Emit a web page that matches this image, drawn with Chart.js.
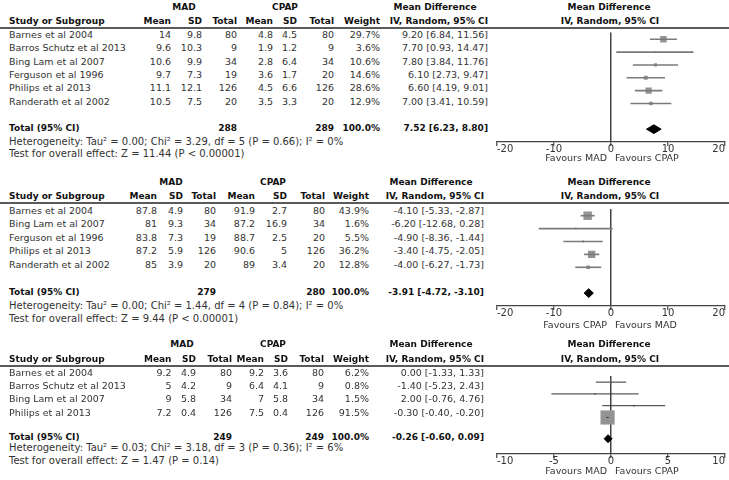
<!DOCTYPE html>
<html><head><meta charset="utf-8">
<script src="https://cdn.jsdelivr.net/npm/chart.js@4.4.1/dist/chart.umd.min.js"></script>
<style>
html,body{margin:0;padding:0;background:#fff;}
#root{position:relative;width:729px;height:480px;overflow:hidden;font-family:"DejaVu Sans",sans-serif;color:#333;}
.t{position:absolute;white-space:nowrap;font-size:9.5px;line-height:12px;height:12px;}
.b{font-weight:bold;font-size:9px;color:#111;}
.n{font-size:10px;}
.hl{position:absolute;left:0;width:729px;height:2px;background:#5a5a5a;}
canvas{position:absolute;}
</style></head><body><div id="root"></div>
<script>
// ---------- Panel 1 ----------
const studies1 = ["Barnes et al 2004","Barros Schutz et al 2013","Bing Lam et al 2007","Ferguson et al 1996","Philips et al 2013","Randerath et al 2002"];
const madMean1 = [14, 9.6, 10.6, 9.7, 11.1, 10.5];
const madSD1 = [9.8, 10.3, 9.9, 7.3, 12.1, 7.5];
const madN1 = [80, 9, 34, 19, 126, 20];
const cpapMean1 = [4.8, 1.9, 2.8, 3.6, 4.5, 3.5];
const cpapSD1 = [4.5, 1.2, 6.4, 1.7, 6.6, 3.3];
const cpapN1 = [80, 9, 34, 20, 126, 20];
const weight1 = [29.7, 3.6, 10.6, 14.6, 28.6, 12.9];
const md1 = [9.20, 7.70, 7.80, 6.10, 6.60, 7.00];
const lo1 = [6.84, 0.93, 3.84, 2.73, 4.19, 3.41];
const hi1 = [11.56, 14.47, 11.76, 9.47, 9.01, 10.59];
const total1 = [7.52, 6.23, 8.80];
const totalN1 = [288, 289];
const ticks1 = [-20, -10, 0, 10, 20];
const favours1 = ["Favours MAD", "Favours CPAP"];
const het1 = "Heterogeneity: Tau\u00b2 = 0.00; Chi\u00b2 = 3.29, df = 5 (P = 0.66); I\u00b2 = 0%";
const test1 = "Test for overall effect: Z = 11.44 (P < 0.00001)";

// ---------- Panel 2 ----------
const studies2 = ["Barnes et al 2004","Bing Lam et al 2007","Ferguson et al 1996","Philips et al 2013","Randerath et al 2002"];
const madMean2 = [87.8, 81, 83.8, 87.2, 85];
const madSD2 = [4.9, 9.3, 7.3, 5.9, 3.9];
const madN2 = [80, 34, 19, 126, 20];
const cpapMean2 = [91.9, 87.2, 88.7, 90.6, 89];
const cpapSD2 = [2.7, 16.9, 2.5, 5, 3.4];
const cpapN2 = [80, 34, 20, 126, 20];
const weight2 = [43.9, 1.6, 5.5, 36.2, 12.8];
const md2 = [-4.10, -6.20, -4.90, -3.40, -4.00];
const lo2 = [-5.33, -12.68, -8.36, -4.75, -6.27];
const hi2 = [-2.87, 0.28, -1.44, -2.05, -1.73];
const total2 = [-3.91, -4.72, -3.10];
const totalN2 = [279, 280];
const ticks2 = [-20, -10, 0, 10, 20];
const favours2 = ["Favours CPAP", "Favours MAD"];
const het2 = "Heterogeneity: Tau\u00b2 = 0.00; Chi\u00b2 = 1.44, df = 4 (P = 0.84); I\u00b2 = 0%";
const test2 = "Test for overall effect: Z = 9.44 (P < 0.00001)";

// ---------- Panel 3 ----------
const studies3 = ["Barnes et al 2004","Barros Schutz et al 2013","Bing Lam et al 2007","Philips et al 2013"];
const madMean3 = [9.2, 5, 9, 7.2];
const madSD3 = [4.9, 4.2, 5.8, 0.4];
const madN3 = [80, 9, 34, 126];
const cpapMean3 = [9.2, 6.4, 7, 7.5];
const cpapSD3 = [3.6, 4.1, 5.8, 0.4];
const cpapN3 = [80, 9, 34, 126];
const weight3 = [6.2, 0.8, 1.5, 91.5];
const md3 = [0.00, -1.40, 2.00, -0.30];
const lo3 = [-1.33, -5.23, -0.76, -0.40];
const hi3 = [1.33, 2.43, 4.76, -0.20];
const total3 = [-0.26, -0.60, 0.09];
const totalN3 = [249, 249];
const ticks3 = [-10, -5, 0, 5, 10];
const favours3 = ["Favours MAD", "Favours CPAP"];
const het3 = "Heterogeneity: Tau\u00b2 = 0.03; Chi\u00b2 = 3.18, df = 3 (P = 0.36); I\u00b2 = 6%";
const test3 = "Test for overall effect: Z = 1.47 (P = 0.14)";

const panels = [
  {studies:studies1, mm:madMean1, ms:madSD1, mn:madN1, cm:cpapMean1, cs:cpapSD1, cn:cpapN1, w:weight1, md:md1, lo:lo1, hi:hi1, total:total1, totalN:totalN1, ticks:ticks1, fav:favours1, het:het1, test:test1},
  {studies:studies2, mm:madMean2, ms:madSD2, mn:madN2, cm:cpapMean2, cs:cpapSD2, cn:cpapN2, w:weight2, md:md2, lo:lo2, hi:hi2, total:total2, totalN:totalN2, ticks:ticks2, fav:favours2, het:het2, test:test2},
  {studies:studies3, mm:madMean3, ms:madSD3, mn:madN3, cm:cpapMean3, cs:cpapSD3, cn:cpapN3, w:weight3, md:md3, lo:lo3, hi:hi3, total:total3, totalN:totalN3, ticks:ticks3, fav:favours3, het:het3, test:test3}
];

// layout (positions only)
const layouts = [
  {groupY:6.5, headY:21, row0:35, step:13.35, totalIdx:7, axisIdx:8, cols:[171,202,237,273,297,334,380,488], madC:184, cpapC:285, hetY:141.5, testY:153.5, favY:158, ciColor:'#7a7a7a', ciW:1.6},
  {groupY:182, headY:196, row0:210.5, step:13.6, totalIdx:6, axisIdx:7, cols:[157,183,216,255,287,325,369,484], madC:171, cpapC:273, hetY:305.5, testY:318.5, favY:325, ciColor:'#7a7a7a', ciW:1.6},
  {groupY:344, headY:358.5, row0:372.5, step:13.4, totalIdx:4.8, axisIdx:6.1, cols:[171.5,196,232,264,288,324,369,484], madC:182, cpapC:273, hetY:448, testY:460.5, favY:471, ciColor:'#333', ciW:1}
];
const AX_L = 497, AX_R = 725;

const root = document.getElementById('root');
function txt(s, x, y, align, cls) {
  const d = document.createElement('div');
  d.className = 't' + (cls ? ' ' + cls : '');
  d.textContent = s;
  let w = 400;
  if (align === 'r') { d.style.left = (x - w) + 'px'; d.style.textAlign = 'right'; }
  else if (align === 'c') { d.style.left = (x - w/2) + 'px'; d.style.textAlign = 'center'; }
  else { d.style.left = x + 'px'; }
  d.style.width = w + 'px';
  d.style.top = (y - 6) + 'px';
  root.appendChild(d);
  return d;
}
const f2 = v => v.toFixed(2);
const ci = (m, l, h) => f2(m) + ' [' + f2(l) + ', ' + f2(h) + ']';

panels.forEach((d, p) => {
  const L = layouts[p];
  const n = d.studies.length;
  const rowY = i => L.row0 + i * L.step;
  const c = L.cols;
  // headers
  txt('MAD', L.madC, L.groupY, 'c', 'b');
  txt('CPAP', L.cpapC, L.groupY, 'c', 'b');
  txt('Mean Difference', c[7] - 53, L.groupY, 'c', 'b');
  txt('Mean Difference', 609, L.groupY, 'c', 'b');
  txt('Study or Subgroup', 9, L.headY, 'l', 'b');
  ['Mean','SD','Total','Mean','SD','Total','Weight','IV, Random, 95% CI'].forEach((h, k) => txt(h, c[k], L.headY, 'r', 'b'));
  txt('IV, Random, 95% CI', 610, L.headY, 'c', 'b');
  const yTopLine = rowY(-0.52);
  const hl = document.createElement('div'); hl.className = 'hl'; hl.style.top = (yTopLine - 1) + 'px'; root.appendChild(hl);
  // rows
  d.studies.forEach((s, i) => {
    const y = rowY(i);
    txt(s, 9, y, 'l');
    [d.mm[i], d.ms[i], d.mn[i], d.cm[i], d.cs[i], d.cn[i]].forEach((v, k) => txt(String(v), c[k], y, 'r'));
    txt(d.w[i].toFixed(1) + '%', c[6], y, 'r');
    txt(ci(d.md[i], d.lo[i], d.hi[i]), c[7], y, 'r');
  });
  const yT = rowY(L.totalIdx);
  txt('Total (95% CI)', 9, yT, 'l', 'b');
  txt(String(d.totalN[0]), c[2], yT, 'r', 'b');
  txt(String(d.totalN[1]), c[5], yT, 'r', 'b');
  txt('100.0%', c[6], yT, 'r', 'b');
  txt(ci(d.total[0], d.total[1], d.total[2]), c[7], yT, 'r', 'b');
  txt(d.het, 9, L.hetY, 'l', 'n');
  txt(d.test, 9, L.testY, 'l', 'n');

  // chart
  const padX = 16, axisH = 22;
  const top = Math.round(yTopLine);
  const bot = rowY(L.axisIdx);
  const cv = document.createElement('canvas');
  const W = AX_R - AX_L + 2 * padX, H = Math.round(bot - top) + axisH;
  cv.width = W; cv.height = H;
  cv.style.left = (AX_L - padX) + 'px'; cv.style.top = top + 'px';
  cv.style.width = W + 'px'; cv.style.height = H + 'px';
  root.appendChild(cv);

  const ds = [];
  d.lo.forEach((l, i) => ds.push({type:'line', data:[{x:l, y:i}, {x:d.hi[i], y:i}], borderColor:L.ciColor, borderWidth:L.ciW, pointRadius:0, tension:0}));
  ds.push({type:'scatter', data:d.md.map((m, i) => ({x:m, y:i})), pointStyle:'rect',
    pointRadius:d.w.map(w => Math.max(1.8, 0.6 * Math.pow(w, 0.7)) / Math.SQRT2),
    backgroundColor:'#939393', borderWidth:0});
  const h = 0.34, ty = L.totalIdx;
  ds.push({type:'line', data:[{x:d.total[1], y:ty}, {x:d.total[0], y:ty - h}, {x:d.total[2], y:ty}, {x:d.total[0], y:ty + h}, {x:d.total[1], y:ty}],
    borderColor:'#000', backgroundColor:'#000', borderWidth:1, fill:'shape', pointRadius:0, tension:0});

  const chart = new Chart(cv, {
    type:'scatter',
    data:{datasets:ds},
    options:{
      responsive:false, animation:false, devicePixelRatio:1,
      layout:{padding:{left:padX, right:padX, top:0, bottom:0}},
      plugins:{legend:{display:false}, tooltip:{enabled:false}},
      scales:{
        x:{type:'linear', min:d.ticks[0], max:d.ticks[d.ticks.length - 1],
          afterBuildTicks:s => { s.ticks = d.ticks.map(v => ({value:v})); },
          afterFit:s => { s.height = axisH; },
          grid:{drawOnChartArea:true, color:ctx => (ctx.tick && ctx.tick.value === 0) ? '#444' : 'rgba(0,0,0,0)', lineWidth:1.5, drawTicks:true, tickLength:4, tickColor:'#444', tickWidth:1.2},
          border:{display:true, color:'#444', width:1.2},
          ticks:{font:{family:'DejaVu Sans', size:10}, color:'#333', padding:-3, maxRotation:0, autoSkip:false, align:'inner'}},
        y:{type:'linear', display:false, reverse:true, min:-0.52, max:L.axisIdx}
      }
    }
  });
  const x0 = AX_L - padX + chart.scales.x.getPixelForValue(0);
  txt(d.fav[0], x0 - 4, L.favY, 'r');
  txt(d.fav[1], x0 + 4, L.favY, 'l');
});
</script></body></html>
